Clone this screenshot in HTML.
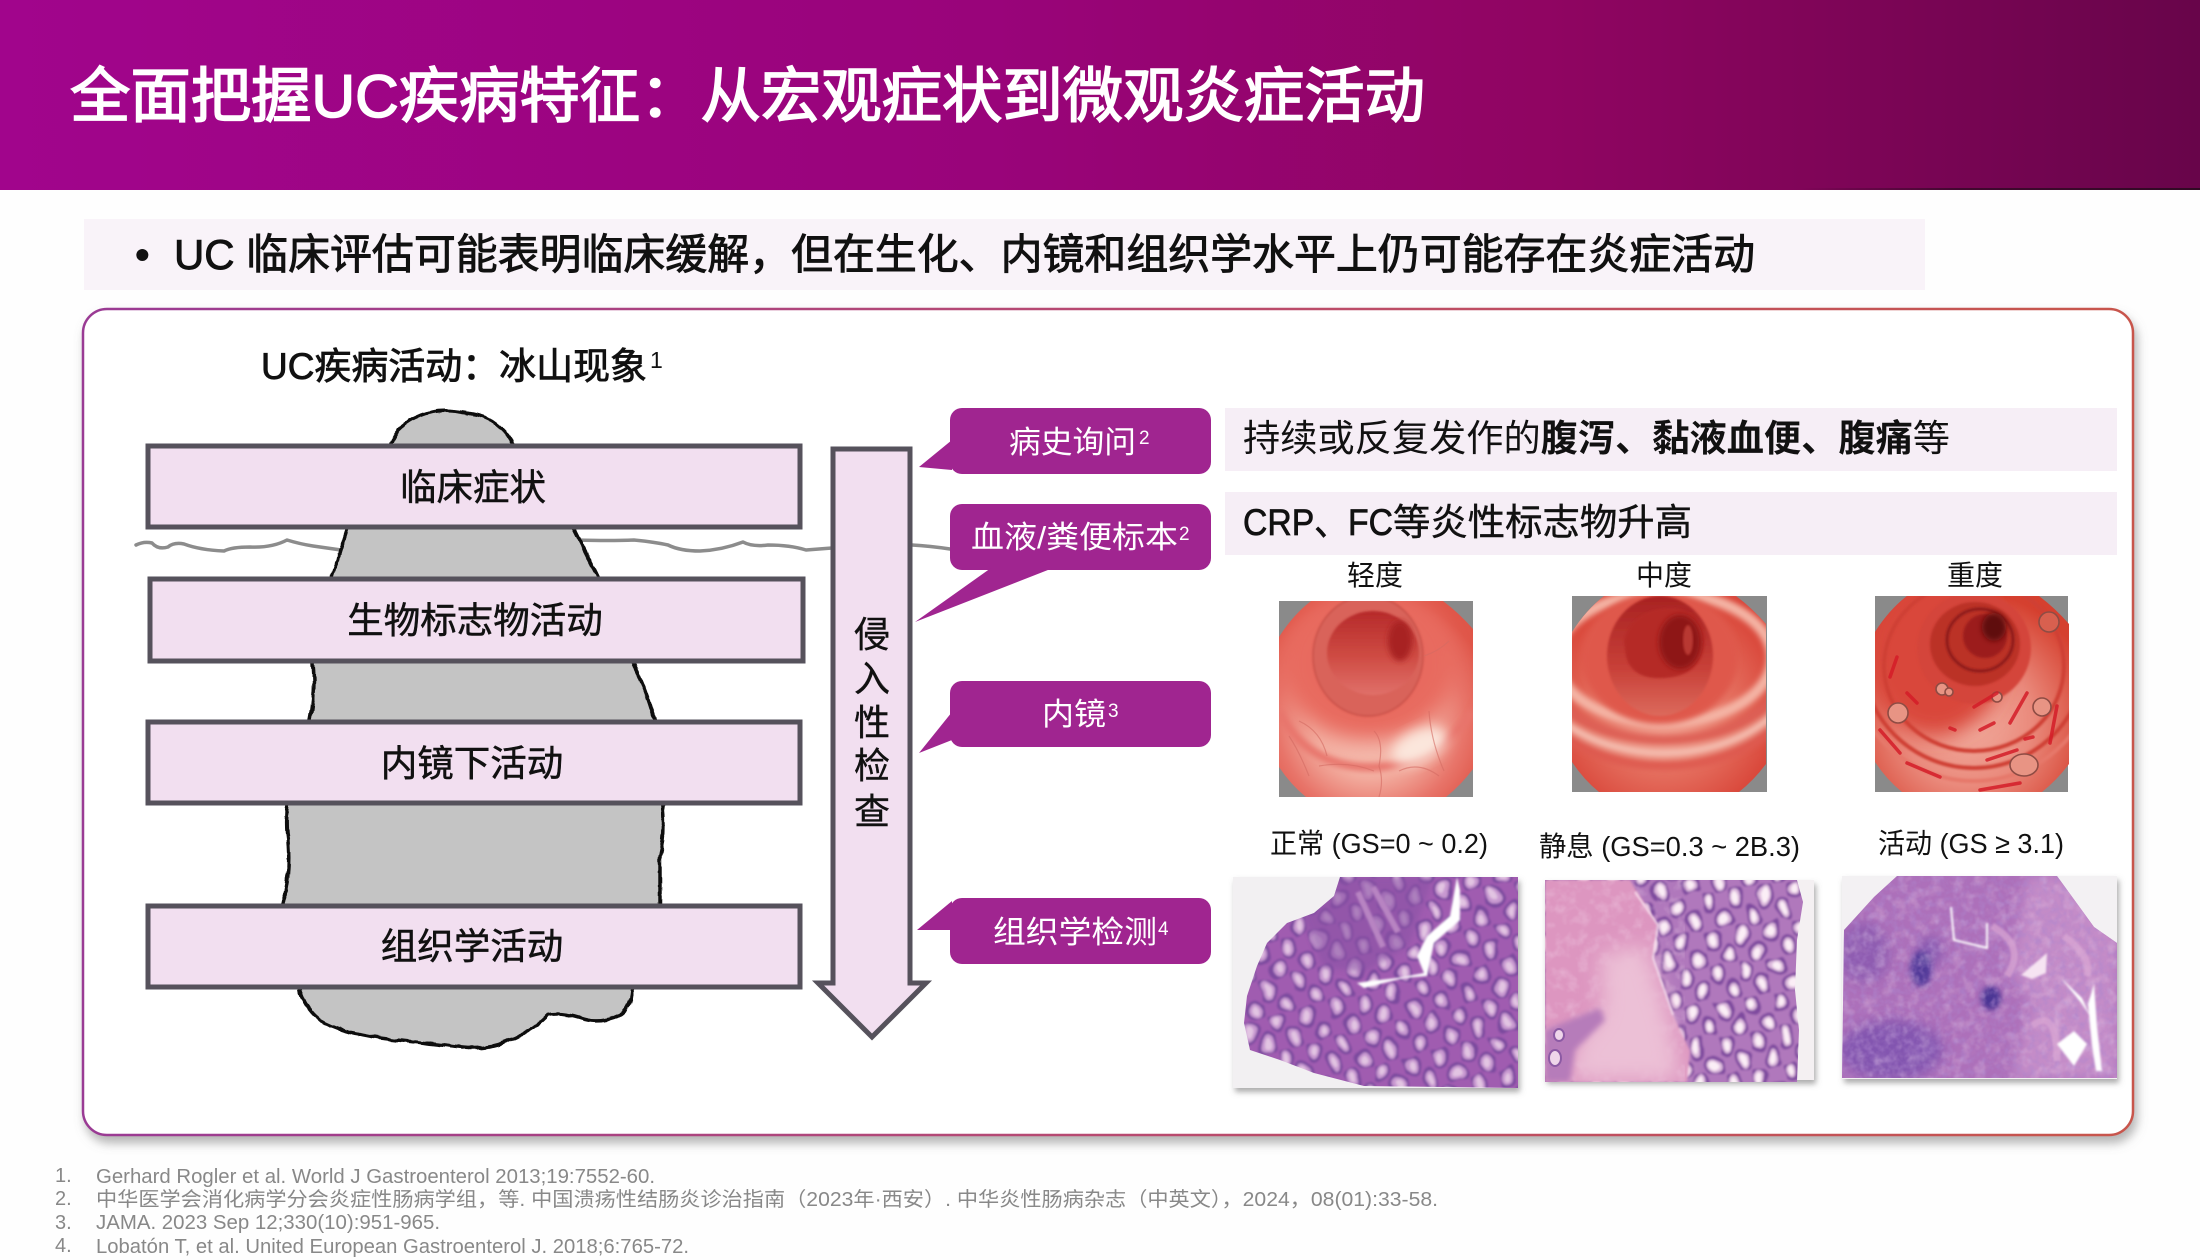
<!DOCTYPE html>
<html><head><meta charset="utf-8"><title>UC</title>
<style>html,body{margin:0;padding:0;background:#fefefe;width:2200px;height:1260px;overflow:hidden}
svg{display:block}
text{font-family:"Liberation Sans","Noto Sans CJK SC",sans-serif}
</style></head><body>
<svg width="2200" height="1260" viewBox="0 0 2200 1260" xmlns="http://www.w3.org/2000/svg">
<defs>
<linearGradient id="hd" x1="0" x2="1" y1="0" y2="0"><stop offset="0" stop-color="#a1058c"/><stop offset=".45" stop-color="#99047a"/><stop offset=".7" stop-color="#900562"/><stop offset="1" stop-color="#68054a"/></linearGradient>
<linearGradient id="hl" x1="0" x2="1" y1="0" y2="0"><stop offset="0" stop-color="#2a0a20" stop-opacity="0"/><stop offset=".4" stop-color="#2a0a20" stop-opacity=".7"/><stop offset="1" stop-color="#2a0a20" stop-opacity=".9"/></linearGradient>
<linearGradient id="cb" x1="0" x2="1" y1="0" y2="0"><stop offset="0" stop-color="#9a3a94"/><stop offset=".5" stop-color="#b84a70"/><stop offset="1" stop-color="#c8554c"/></linearGradient>
<filter id="sh" x="-3%" y="-3%" width="106%" height="108%"><feDropShadow dx="3" dy="7" stdDeviation="5" flood-color="#777" flood-opacity=".55"/></filter>
<filter id="sh2" x="-5%" y="-5%" width="110%" height="112%"><feDropShadow dx="2" dy="4" stdDeviation="3" flood-color="#666" flood-opacity=".55"/></filter>
<filter id="b1"><feGaussianBlur stdDeviation="1"/></filter>
<filter id="b3" x="-30%" y="-30%" width="160%" height="160%"><feGaussianBlur stdDeviation="3"/></filter>
<filter id="b6" x="-30%" y="-30%" width="160%" height="160%"><feGaussianBlur stdDeviation="6"/></filter>
<filter id="b10" x="-40%" y="-40%" width="180%" height="180%"><feGaussianBlur stdDeviation="10"/></filter>
<filter id="hand" x="-5%" y="-5%" width="110%" height="110%"><feTurbulence type="fractalNoise" baseFrequency=".07" numOctaves="2" seed="3" result="t"/><feDisplacementMap in="SourceGraphic" in2="t" scale="5" xChannelSelector="R" yChannelSelector="G"/></filter>
<filter id="wob" x="-10%" y="-10%" width="120%" height="120%"><feTurbulence type="fractalNoise" baseFrequency=".035" numOctaves="2" seed="7" result="t"/><feDisplacementMap in="SourceGraphic" in2="t" scale="14" xChannelSelector="R" yChannelSelector="G" result="d"/><feGaussianBlur in="d" stdDeviation="1"/></filter>
<filter id="nz" x="0" y="0" width="100%" height="100%"><feTurbulence type="fractalNoise" baseFrequency=".16" numOctaves="3" seed="4"/><feColorMatrix values="0 0 0 0 .42  0 0 0 0 .24  0 0 0 0 .62  2.4 0 0 0 -1"/><feGaussianBlur stdDeviation=".6"/></filter>
<filter id="nz2" x="0" y="0" width="100%" height="100%"><feTurbulence type="fractalNoise" baseFrequency=".09" numOctaves="3" seed="9"/><feColorMatrix values="0 0 0 0 .95  0 0 0 0 .78  0 0 0 0 .9  2.2 0 0 0 -1"/><feGaussianBlur stdDeviation=".6"/></filter>
<clipPath id="oc"><path d="M32 0H164Q180 12 194 28V168Q182 184 167 196H27Q12 184 0 166V36Q14 14 32 0Z"/></clipPath>
<radialGradient id="e1" gradientUnits="userSpaceOnUse" cx="92" cy="118" r="125"><stop offset="0" stop-color="#f6c8bc"/><stop offset=".45" stop-color="#f3b0a2"/><stop offset=".75" stop-color="#e8756a"/><stop offset="1" stop-color="#df5548"/></radialGradient>
<radialGradient id="e2" gradientUnits="userSpaceOnUse" cx="92" cy="110" r="130"><stop offset="0" stop-color="#f2a898"/><stop offset=".5" stop-color="#e57060"/><stop offset="1" stop-color="#d63c30"/></radialGradient>
<radialGradient id="e3" gradientUnits="userSpaceOnUse" cx="92" cy="125" r="130"><stop offset="0" stop-color="#f2b0a2"/><stop offset=".5" stop-color="#ea8a7c"/><stop offset="1" stop-color="#d5402f"/></radialGradient>
<linearGradient id="lm1" x1="0" x2="0" y1="0" y2="1"><stop offset="0" stop-color="#b62a2a"/><stop offset=".55" stop-color="#cf4c44"/><stop offset="1" stop-color="#e0706a"/></linearGradient>
<linearGradient id="lm2" x1="0" x2="0" y1="0" y2="1"><stop offset="0" stop-color="#a82222"/><stop offset=".6" stop-color="#c84038"/><stop offset="1" stop-color="#dc6a5c"/></linearGradient>
<pattern id="cr" width="30" height="36" patternUnits="userSpaceOnUse" patternTransform="rotate(-14)"><rect width="30" height="36" fill="#a05cb0"/><ellipse cx="7" cy="9" rx="7.5" ry="9.5" fill="#c898d0" stroke="#7a4a9e" stroke-width="3.2"/><ellipse cx="7" cy="9" rx="3" ry="5" fill="#e2c4e2"/><ellipse cx="22" cy="27" rx="7.5" ry="9.5" fill="#c898d0" stroke="#7a4a9e" stroke-width="3.2"/><ellipse cx="22" cy="27" rx="3" ry="5" fill="#e2c4e2"/></pattern>
<pattern id="cr2" width="30" height="36" patternUnits="userSpaceOnUse" patternTransform="rotate(-8)"><rect width="30" height="36" fill="#b078bc"/><ellipse cx="7" cy="9" rx="7.5" ry="9.5" fill="#dcb8dc" stroke="#7e4a9e" stroke-width="3.2"/><ellipse cx="7" cy="9" rx="3.5" ry="5.5" fill="#fbeef6"/><ellipse cx="22" cy="27" rx="7.5" ry="9.5" fill="#dcb8dc" stroke="#7e4a9e" stroke-width="3.2"/><ellipse cx="22" cy="27" rx="3.5" ry="5.5" fill="#fbeef6"/></pattern>
<clipPath id="h1"><path d="M107 0L101 19L81 36L54 46L34 66L24 89L14 119L11 146L17 173L47 183L81 196L131 209L285 211V0Z"/></clipPath>
<clipPath id="h2"><path d="M0 0H252L258 22L252 60L250 110L254 150L252 202H0Z"/></clipPath>
<clipPath id="h3"><path d="M55 0L32 21L2 54L0 202H275V67L252 51L215 0Z"/></clipPath>
</defs>

<rect width="2200" height="1260" fill="#fefefe"/>
<rect width="2200" height="190" fill="url(#hd)"/>
<rect x="1800" y="188" width="400" height="2" fill="url(#hl)"/>
<text x="70" y="117" font-size="60" fill="#fff" stroke="#fff" stroke-width="1.6" textLength="1355" lengthAdjust="spacingAndGlyphs">全面把握UC疾病特征：从宏观症状到微观炎症活动</text>

<rect x="84" y="219" width="1841" height="71" fill="#f9f3f9"/>
<text x="135" y="269" font-size="42" font-weight="700" fill="#111">•</text>
<text x="174" y="269" font-size="42" fill="#111" stroke="#111" stroke-width=".9" textLength="1581" lengthAdjust="spacingAndGlyphs">UC 临床评估可能表明临床缓解，但在生化、内镜和组织学水平上仍可能存在炎症活动</text>

<rect x="83" y="309" width="2050" height="826" rx="24" fill="#fff" stroke="url(#cb)" stroke-width="2.5" filter="url(#sh)"/>

<text x="261" y="379" font-size="37" fill="#111" stroke="#111" stroke-width=".8" textLength="386" lengthAdjust="spacingAndGlyphs">UC疾病活动：冰山现象</text>
<text x="650" y="368" font-size="23" fill="#111">1</text>

<!-- water -->
<g fill="none" stroke="#8c8c8c" stroke-width="3.5" stroke-linejoin="round" stroke-linecap="round">
<path d="M136 545Q144 541 152 543Q158 550 168 547Q174 542 184 544Q200 550 224 551Q232 547 250 547Q272 548 287 540Q300 544 313 546L341 550"/>
<path d="M577 540Q610 541 634 540Q655 542 668 545Q680 551 700 551Q722 550 743 542Q752 547 768 545Q790 545 806 550L832 548"/>
<path d="M912 545Q930 546 950 549"/>
</g>
<!-- iceberg -->
<path filter="url(#hand)" d="M388 450Q392 437 398 430Q404 424 415 418Q427 412 438 411Q450 410 467 413Q485 416 493 422Q502 428 507 435Q512 443 518 452L574 530Q585 552 597 576L634 664Q646 688 655 720L663 806Q666 833 660 857L660 904L632 990Q630 1010 620 1015Q600 1025 580 1018Q560 1012 548 1015Q538 1028 510 1040Q485 1052 450 1046Q416 1042 380 1038Q340 1032 320 1020Q305 1008 300 990L283 904Q292 867 287 833Q286 815 288 806L310 720Q316 690 313 664L333 576Q340 552 347 530Z" fill="#c4c4c4" stroke="#111" stroke-width="3.5" stroke-linejoin="round"/>

<!-- bars -->
<g fill="#f2dff0" stroke="#56525c" stroke-width="5">
<rect x="148" y="446" width="652" height="81"/>
<rect x="150" y="579" width="653" height="82"/>
<rect x="148" y="722" width="652" height="81"/>
<rect x="148" y="906" width="652" height="81"/>
</g>
<g font-size="36.5" fill="#111" stroke="#111" stroke-width=".5" text-anchor="middle">
<text x="473" y="500">临床症状</text>
<text x="475" y="633">生物标志物活动</text>
<text x="472" y="776">内镜下活动</text>
<text x="472" y="959">组织学活动</text>
</g>

<!-- arrow -->
<path d="M833 449H910V983H926L872 1037L818 983H833Z" fill="#f2dff0" stroke="#56525c" stroke-width="5" stroke-linejoin="miter"/>
<g font-size="36" fill="#111" stroke="#111" stroke-width=".4" text-anchor="middle">
<text x="872" y="647">侵</text><text x="872" y="691">入</text><text x="872" y="735">性</text><text x="872" y="778">检</text><text x="872" y="824">查</text>
</g>

<!-- bubbles -->
<g fill="#a02590">
<rect x="950" y="408" width="261" height="66" rx="12"/><path d="M952 440L919 467L952 470Z"/>
<rect x="950" y="504" width="261" height="66" rx="12"/><path d="M991 568L915 622L1053 568Z"/>
<rect x="950" y="681" width="261" height="66" rx="12"/><path d="M952 712L919 753L952 740Z"/>
<rect x="950" y="898" width="261" height="66" rx="12"/><path d="M952 901L917 930L952 930Z"/>
</g>
<g fill="#fff">
<text x="1009" y="453" font-size="31" textLength="127" lengthAdjust="spacingAndGlyphs">病史询问</text>
<text x="1139" y="444" font-size="19">2</text>
<text x="971" y="548" font-size="31" textLength="207" lengthAdjust="spacingAndGlyphs">血液/粪便标本</text>
<text x="1179" y="540" font-size="19">2</text>
<text x="1042" y="725" font-size="31" textLength="64" lengthAdjust="spacingAndGlyphs">内镜</text>
<text x="1108" y="717" font-size="19">3</text>
<text x="993" y="943" font-size="31" textLength="164" lengthAdjust="spacingAndGlyphs">组织学检测</text>
<text x="1158" y="935" font-size="19">4</text>
</g>

<!-- right bars -->
<rect x="1225" y="408" width="892" height="63" fill="#f6eef6"/>
<rect x="1225" y="492" width="892" height="63" fill="#f6eef6"/>
<text x="1243" y="451" font-size="37" fill="#111" textLength="707" lengthAdjust="spacingAndGlyphs">持续或反复发作的<tspan font-weight="700">腹泻、黏液血便、腹痛</tspan>等</text>
<text x="1243" y="535" font-size="37" fill="#111" stroke="#111" stroke-width=".7" textLength="150" lengthAdjust="spacingAndGlyphs">CRP、FC</text>
<text x="1393" y="535" font-size="37" fill="#111" stroke="#111" stroke-width=".4" textLength="299" lengthAdjust="spacingAndGlyphs">等炎性标志物升高</text>

<g font-size="28" fill="#111" text-anchor="middle">
<text x="1375" y="585">轻度</text><text x="1664" y="585">中度</text><text x="1975" y="585">重度</text>
</g>

<!-- endoscopy 1 -->
<g transform="translate(1279,601)">
<rect width="194" height="196" fill="#8a8a8a"/>
<g clip-path="url(#oc)">
<rect width="194" height="196" fill="url(#e1)"/>
<ellipse cx="90" cy="62" rx="88" ry="78" fill="#e86a5e" filter="url(#b10)"/>
<path d="M0 110Q30 170 100 166Q160 160 194 110" fill="none" stroke="#e8756c" stroke-width="8" filter="url(#b3)"/>
<ellipse cx="140" cy="145" rx="30" ry="16" fill="#fbe6dc" filter="url(#b6)" transform="rotate(-25 140 145)"/>
<ellipse cx="89" cy="55" rx="55" ry="60" fill="#d9635a" stroke="#b53a34" stroke-width="1.2" stroke-opacity=".7" filter="url(#b1)"/>
<ellipse cx="94" cy="52" rx="46" ry="42" fill="url(#lm1)" filter="url(#b1)"/>
<ellipse cx="121" cy="40" rx="12" ry="20" fill="#a82020" filter="url(#b3)"/>
<path d="M20 120Q42 130 48 155M95 130Q105 140 100 165Q105 180 100 196M150 110Q152 140 165 170M40 165Q70 160 95 170M120 170Q140 160 160 175M145 55Q160 50 170 40M10 135Q20 150 30 175" fill="none" stroke="#d46a62" stroke-width="1.2" opacity=".6"/>
</g></g>
<!-- endoscopy 2 -->
<g transform="translate(1572,596)">
<rect width="195" height="196" fill="#8a8a8a"/>
<g clip-path="url(#oc)">
<rect width="195" height="196" fill="url(#e2)"/>
<g fill="none" filter="url(#b3)">
<ellipse cx="92" cy="62" rx="108" ry="65" stroke="#f4b4a4" stroke-width="11"/>
<ellipse cx="92" cy="62" rx="124" ry="82" stroke="#dd5e54" stroke-width="8"/>
<ellipse cx="92" cy="62" rx="136" ry="95" stroke="#f4bcae" stroke-width="9"/>
<ellipse cx="92" cy="62" rx="146" ry="108" stroke="#de5a50" stroke-width="8"/>
</g>
<ellipse cx="88" cy="62" rx="78" ry="66" fill="#df584c" filter="url(#b3)"/>
<ellipse cx="88" cy="60" rx="53" ry="60" fill="url(#lm2)" filter="url(#b1)"/>
<path d="M52 45Q60 12 100 12Q130 14 132 45Q130 80 92 82Q60 84 54 60Z" fill="#b52a28" filter="url(#b1)"/>
<ellipse cx="108" cy="46" rx="21" ry="27" fill="#8e1818" filter="url(#b3)"/>
<ellipse cx="116" cy="44" rx="5" ry="15" fill="#b83830" filter="url(#b1)"/>
</g></g>
<!-- endoscopy 3 -->
<g transform="translate(1875,596)">
<rect width="193" height="196" fill="#8a8a8a"/>
<g clip-path="url(#oc)">
<rect width="194" height="196" fill="url(#e3)"/>
<ellipse cx="60" cy="60" rx="70" ry="80" fill="#d9473a" filter="url(#b10)"/>
<g fill="none" stroke="#cf4034" stroke-width="4" filter="url(#b1)">
<ellipse cx="99" cy="70" rx="90" ry="85"/><ellipse cx="99" cy="60" rx="112" ry="112"/><ellipse cx="99" cy="60" rx="125" ry="125" stroke="#e6786a"/></g>
<ellipse cx="99" cy="52" rx="57" ry="56" fill="#d4453a" filter="url(#b1)"/>
<ellipse cx="100" cy="48" rx="45" ry="42" fill="#bb3028" filter="url(#b1)"/>
<ellipse cx="105" cy="44" rx="33" ry="31" fill="none" stroke="#8e1a1a" stroke-width="3" filter="url(#b1)"/>
<ellipse cx="110" cy="40" rx="22" ry="22" fill="#9c1e1e" filter="url(#b1)"/>
<ellipse cx="119" cy="31" rx="12" ry="14" fill="#5e0e0e" filter="url(#b3)"/>
<g fill="#e89484" stroke="#8e4c44" stroke-width="1.6"><circle cx="23" cy="117" r="10"/><circle cx="67" cy="93" r="6"/><circle cx="74" cy="96" r="4"/><circle cx="122" cy="101" r="5"/><circle cx="167" cy="111" r="9"/><ellipse cx="149" cy="169" rx="14" ry="11"/><circle cx="174" cy="26" r="10" fill="#d8604f"/></g>
<g fill="none" stroke="#d41c28" stroke-width="3.5" stroke-linecap="round" opacity=".85"><path d="M152 97L135 127M182 110L175 147M32 167L65 181M119 127L105 134M99 111L122 97M112 164L142 154M105 194L145 187M5 134L25 157M22 61L15 81M32 97L42 107M75 132L80 134M150 143L158 141"/></g>
</g></g>

<g font-size="28" fill="#111">
<text x="1270" y="853" textLength="218" lengthAdjust="spacingAndGlyphs">正常 (GS=0 ~ 0.2)</text>
<text x="1539" y="856" textLength="261" lengthAdjust="spacingAndGlyphs">静息 (GS=0.3 ~ 2B.3)</text>
<text x="1878" y="853" textLength="186" lengthAdjust="spacingAndGlyphs">活动 (GS ≥ 3.1)</text>
</g>

<!-- histology 1 -->
<g transform="translate(1233,877)">
<rect width="285" height="211" fill="#f2f0f2" filter="url(#sh2)"/>
<g clip-path="url(#h1)">
<rect x="-20" y="-20" width="325" height="251" fill="url(#cr)" filter="url(#wob)"/>
<path d="M70 40L110 0H200L175 70L130 95L90 90Z" fill="#8a52a6" opacity=".6" filter="url(#b3)"/>
<path d="M125 15L150 70M140 10L165 55" stroke="#b884c2" stroke-width="6" fill="none" filter="url(#b1)"/>
</g>
<path d="M224 0L217 39L194 59L184 79L191 96L164 101L137 104L124 106L131 111L171 101L194 99L201 66L227 43L227 13Z" fill="#fff" filter="url(#b1)"/>
</g>
<!-- histology 2 -->
<g transform="translate(1545,880)">
<rect width="269" height="200" fill="#f4f0f2" filter="url(#sh2)"/>
<g clip-path="url(#h2)">
<rect x="-20" y="-20" width="300" height="240" fill="url(#cr2)" filter="url(#wob)"/>
<path d="M0 0H85L113 45L108 78L128 135L145 171L142 202H0Z" fill="#dd96c0" filter="url(#b1)"/>
<rect width="140" height="202" filter="url(#nz2)" opacity=".3"/>
<path d="M55 75L100 65L122 135L136 200H30L28 170L58 130Z" fill="#ecc0d6" filter="url(#b10)"/>
<path d="M0 150L55 128L60 140L30 170L25 202H0Z" fill="#b67cba" filter="url(#b3)"/>
<g fill="#efd6ea" stroke="#8c5aa4" stroke-width="2"><ellipse cx="10" cy="178" rx="6" ry="8"/><ellipse cx="14" cy="155" rx="5" ry="6"/></g>
<path d="M90 12L113 45L108 78L128 135" fill="none" stroke="#fbeaf4" stroke-width="1.5" filter="url(#b1)"/>
</g>
</g>
<!-- histology 3 -->
<g transform="translate(1842,876)">
<rect width="275" height="203" fill="#f3f1f3" filter="url(#sh2)"/>
<g clip-path="url(#h3)">
<rect width="275" height="203" fill="#ad70ba"/>
<path d="M185 0H275V203H170L190 130L170 95Z" fill="#c48cc8" filter="url(#b6)"/>
<g filter="url(#b6)">
<ellipse cx="22" cy="77" rx="25" ry="30" fill="#7c4eaa" opacity=".6"/>
<ellipse cx="49" cy="174" rx="52" ry="30" fill="#764cac" opacity=".75"/>
<ellipse cx="88" cy="75" rx="12" ry="14" fill="#6a48a8" opacity=".6"/>
</g>
<ellipse cx="79" cy="93" rx="11" ry="18" fill="#4a3496" filter="url(#b3)" opacity=".9"/>
<ellipse cx="149" cy="122" rx="10" ry="12" fill="#443092" filter="url(#b3)" opacity=".95"/>
<rect width="275" height="203" filter="url(#nz)" opacity=".55"/>
<rect width="275" height="203" filter="url(#nz2)" opacity=".3"/>
<g fill="none" stroke="#dba8d4" stroke-width="7" opacity=".7" filter="url(#b1)"><path d="M150 50Q185 70 165 100M222 60Q250 80 245 100M190 150Q215 130 215 185"/></g>
<g filter="url(#b1)">
<path d="M179 99L205 77L204 97L190 103Z" fill="#f6e4f2"/>
<path d="M219 102L240 122L248 140L240 128ZM215 168L232 155L245 168L232 190Z" fill="#fff"/>
<path d="M252 108L246 128L250 170L254 195L260 195L255 150Z" fill="#fff"/>
</g>
<g fill="none" stroke="#fff" stroke-width="2" filter="url(#b1)"><path d="M109 31L112 64L145 72L145 47"/></g>
</g>
</g>

<!-- footnotes -->
<g font-size="20" fill="#888">
<text x="55" y="1182">1.</text><text x="96" y="1183" textLength="559" lengthAdjust="spacingAndGlyphs">Gerhard Rogler et al. World J Gastroenterol 2013;19:7552-60.</text>
<text x="55" y="1205">2.</text><text x="96" y="1206" textLength="1342" lengthAdjust="spacingAndGlyphs">中华医学会消化病学分会炎症性肠病学组，等. 中国溃疡性结肠炎诊治指南（2023年·西安）. 中华炎性肠病杂志（中英文），2024，08(01):33-58.</text>
<text x="55" y="1229">3.</text><text x="96" y="1229" textLength="344" lengthAdjust="spacingAndGlyphs">JAMA. 2023 Sep 12;330(10):951-965.</text>
<text x="55" y="1252">4.</text><text x="96" y="1253" textLength="593" lengthAdjust="spacingAndGlyphs">Lobatón T, et al. United European Gastroenterol J. 2018;6:765-72.</text>
</g>
</svg>
</body></html>
